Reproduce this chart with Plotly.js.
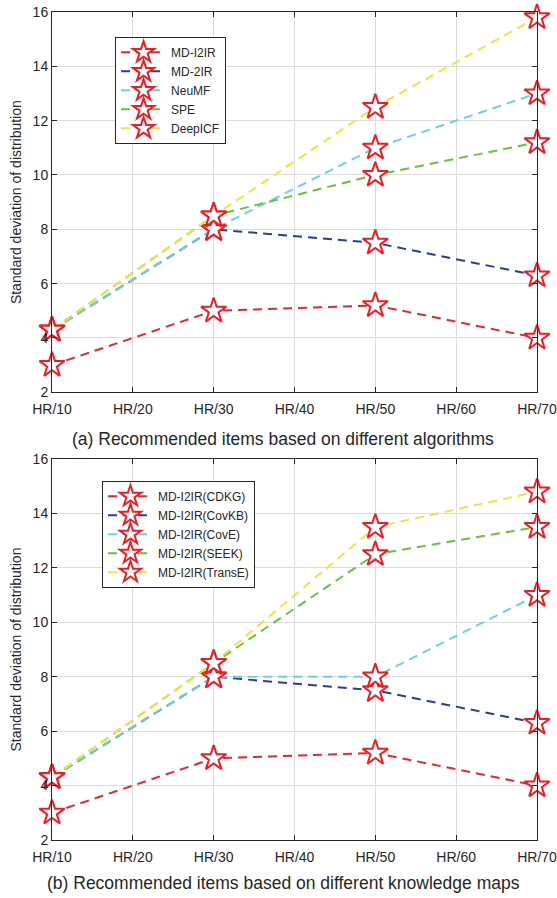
<!DOCTYPE html>
<html>
<head>
<meta charset="utf-8">
<script src="https://cdn.plot.ly/plotly-3.0.1.min.js"></script>
<style>html,body{margin:0;padding:0;background:#fff;}#chart{width:557px;height:898px;}</style>
</head>
<body>
<div id="chart"></div>
<script>
// ---- data ----
var xPos = [10, 30, 50, 70];
var tickVals = [10, 20, 30, 40, 50, 60, 70];
var tickText = ['HR/10', 'HR/20', 'HR/30', 'HR/40', 'HR/50', 'HR/60', 'HR/70'];
var yTickVals = [2, 4, 6, 8, 10, 12, 14, 16];

var namesA = ['MD-I2IR', 'MD-2IR', 'NeuMF', 'SPE', 'DeepICF'];
var a_MDI2IR = [3.0, 5.0, 5.2, 4.0];
var a_MD2IR  = [4.3, 8.0, 7.5, 6.3];
var a_NeuMF  = [4.3, 8.0, 11.0, 13.0];
var a_SPE    = [4.3, 8.5, 10.0, 11.2];
var a_DeepICF= [4.3, 8.5, 12.5, 15.8];

var namesB = ['MD-I2IR(CDKG)', 'MD-I2IR(CovKB)', 'MD-I2IR(CovE)', 'MD-I2IR(SEEK)', 'MD-I2IR(TransE)'];
var b_CDKG   = [3.0, 5.0, 5.2, 4.0];
var b_CovKB  = [4.3, 8.0, 7.5, 6.3];
var b_CovE   = [4.3, 8.0, 8.0, 11.0];
var b_SEEK   = [4.3, 8.5, 12.5, 13.5];
var b_TransE = [4.3, 8.5, 13.5, 14.8];

var titleA = '(a) Recommended items based on different algorithms';
var titleB = '(b) Recommended items based on different knowledge maps';
var yTitle = 'Standard deviation of distribution';

// ---- styles ----
var lineColors = ['#e8262b', '#2a3c96', '#6dcfe0', '#6abf40', '#ece63a'];
var textColor = '#262626';
var FONT = 'Liberation Sans, Arial, sans-serif';

function mk(y, name, i, xa, ya, leg) {
  return {
    type: 'scatter', mode: 'lines+markers',
    x: xPos, y: y, name: name, xaxis: xa, yaxis: ya, legend: leg,
    cliponaxis: false,
    line: {color: lineColors[i], width: 2, dash: '9px,6px'},
    marker: {symbol: 'star', size: 19, color: '#ffffff', line: {color: '#ee1c25', width: 2}}
  };
}

var seriesA = [a_MDI2IR, a_MD2IR, a_NeuMF, a_SPE, a_DeepICF];
var seriesB = [b_CDKG, b_CovKB, b_CovE, b_SEEK, b_TransE];
var data = [];
seriesA.forEach(function(s, i){ data.push(mk(s, namesA[i], i, 'x', 'y', 'legend')); });
seriesB.forEach(function(s, i){ data.push(mk(s, namesB[i], i, 'x2', 'y2', 'legend2')); });

function xax(anchor) {
  return {
    anchor: anchor, range: [10, 70], tickvals: tickVals, ticktext: tickText,
    showline: true, linecolor: textColor, linewidth: 1, mirror: 'ticks',
    ticks: 'inside', ticklen: 5, tickcolor: textColor,
    showgrid: true, gridcolor: '#dcdcdc', gridwidth: 1, zeroline: false,
    ticklabeloverflow: 'allow', ticklabelstandoff: 4,
    tickfont: {family: FONT, size: 14, color: textColor}
  };
}
function yax(anchor, domain) {
  return {
    anchor: anchor, domain: domain, range: [2, 16], tickvals: yTickVals,
    showline: true, linecolor: textColor, linewidth: 1, mirror: 'ticks',
    ticks: 'inside', ticklen: 5, tickcolor: textColor,
    showgrid: true, gridcolor: '#dcdcdc', gridwidth: 1, zeroline: false,
    tickfont: {family: FONT, size: 14, color: textColor},
    title: {text: yTitle, font: {family: FONT, size: 14, color: textColor}, standoff: 7}
  };
}

var legendStyle = {
  bgcolor: '#ffffff', bordercolor: textColor, borderwidth: 1,
  font: {family: FONT, size: 12, color: textColor},
  xanchor: 'left', yanchor: 'top', itemwidth: 45, tracegroupgap: 0
};

var layout = {
  width: 557, height: 898,
  margin: {l: 52, r: 20, t: 12, b: 58},
  paper_bgcolor: '#ffffff', plot_bgcolor: '#ffffff',
  showlegend: true,
  xaxis: xax('y'),
  yaxis: yax('x', [0.5407, 1]),
  xaxis2: xax('y2'),
  yaxis2: yax('x2', [0, 0.4601]),
  legend: Object.assign({x: 0.13, y: 0.97}, legendStyle),
  legend2: Object.assign({x: 0.103, y: 0.434}, legendStyle),
  annotations: [
    {text: titleA, xref: 'paper', yref: 'paper', x: 0.477, y: 0.4846, xanchor: 'center', yanchor: 'middle',
     showarrow: false, font: {family: FONT, size: 17.5, color: textColor}},
    {text: titleB, xref: 'paper', yref: 'paper', x: 0.477, y: -0.052, xanchor: 'center', yanchor: 'middle',
     showarrow: false, font: {family: FONT, size: 17.5, color: textColor}}
  ]
};

Plotly.newPlot('chart', data, layout, {displayModeBar: false, staticPlot: true});
</script>
</body>
</html>
